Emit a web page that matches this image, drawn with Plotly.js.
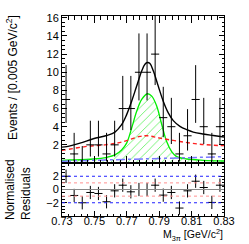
<!DOCTYPE html>
<html>
<head>
<meta charset="utf-8">
<script src="https://cdn.plot.ly/plotly-3.0.1.min.js"></script>
<style>html,body{margin:0;padding:0;background:#fff;}#plot{width:249px;height:244px;}</style>
</head>
<body>
<div id="plot"></div>
<script>
// ---- data ----
const binCenters = [0.7325,0.7375,0.7425,0.7475,0.7525,0.7575,0.7625,0.7675,0.7725,0.7775,
                    0.7825,0.7875,0.7925,0.7975,0.8025,0.8075,0.8125,0.8175,0.8225,0.8275];
const counts     = [7,1,0,2,2,1,2,6,6,10,10,12,5,4,1,3,7,4,1,4];
const residuals  = [2.0,-0.9,-2.0,-0.45,-0.6,-1.85,-0.2,0.65,-0.35,0.0,
                    0.0,0.65,-0.85,-0.45,-2.8,-0.2,1.25,0.3,-1.95,0.65];

// fitted curves
const totalX = [0.7300,0.7329,0.7411,0.7493,0.7576,0.7627,0.7668,0.7699,0.7730,0.7761,0.7792,0.7812,0.7827,0.7843,0.7864,0.7894,0.7925,0.7956,0.7987,0.8028,0.8070,0.8110,0.8172,0.8234,0.8300];
const totalY = [1.75,1.81,2.19,2.67,3.03,3.41,4.22,5.33,6.81,8.48,10.14,10.89,11.07,10.96,10.14,8.48,6.81,5.52,4.67,4.04,3.67,3.41,3.19,3.03,2.87];

const sigX = [0.7300,0.7349,0.7493,0.7576,0.7627,0.7668,0.7699,0.7730,0.7761,0.7792,0.7827,0.7854,0.7885,0.7916,0.7946,0.7977,0.8008,0.8070,0.8172,0.8300];
const sigY = [0.30,0.33,0.44,0.63,0.89,1.44,2.19,3.85,5.70,7.00,7.63,7.37,6.26,4.22,2.37,1.26,0.70,0.44,0.30,0.22];

const bkgX = [0.7300,0.7319,0.7442,0.7565,0.7668,0.7781,0.7827,0.7905,0.8028,0.8152,0.8271,0.8300];
const bkgY = [1.40,1.44,1.81,2.00,2.30,2.93,3.00,2.74,2.37,2.07,1.93,1.92];

const bkg2X = [0.7300,0.7550,0.7800,0.8050,0.8300];
const bkg2Y = [0.20,0.32,0.45,0.58,0.70];

const yTickVals  = [2,4,6,8,10,12,14,16];
const resTickVals = [-2,0,2];

// ---- Poisson (Gehrels) asymmetric errors derived from the counts ----
const errUp = counts.map(n => Math.sqrt(n + 0.75) + 1);
const errLo = counts.map(n => n === 0 ? 0 : n - n * Math.pow(1 - 1/(9*n) - 1/(3*Math.sqrt(n)), 3));
const halfBin = 0.0025;

const FONT = 'Liberation Sans, Arial, sans-serif';

const traces = [
  {x: sigX, y: sigY, xaxis:'x', yaxis:'y', mode:'lines', fill:'tozeroy',
   fillcolor:'rgba(0,0,0,0)',
   fillpattern:{shape:'/', fgcolor:'#44ee44', bgcolor:'rgba(255,255,255,0)', size:6, solidity:0.12},
   line:{color:'#00ee00', width:1.3, shape:'spline'}, hoverinfo:'skip'},
  {x: bkg2X, y: bkg2Y, xaxis:'x', yaxis:'y', mode:'lines',
   line:{color:'rgb(120,120,255)', width:1.5, dash:'dashdot'}},
  {x: bkgX, y: bkgY, xaxis:'x', yaxis:'y', mode:'lines',
   line:{color:'#ff2020', width:1.4, dash:'4px,3px', shape:'spline'}},
  {x: totalX, y: totalY, xaxis:'x', yaxis:'y', mode:'lines',
   line:{color:'#000000', width:1.4, shape:'spline'}},
  {x: binCenters, y: counts, xaxis:'x', yaxis:'y', mode:'markers',
   marker:{size:1, color:'#000'},
   error_x:{type:'constant', value:halfBin, width:0, color:'#000', thickness:1},
   error_y:{type:'data', symmetric:false, array:errUp, arrayminus:errLo, width:0, color:'#000', thickness:1}},
  {x: binCenters, y: residuals, xaxis:'x2', yaxis:'y2', mode:'markers',
   marker:{size:1, color:'#000'},
   error_x:{type:'constant', value:halfBin, width:0, color:'#000', thickness:1},
   error_y:{type:'constant', value:1, width:0, color:'#000', thickness:1}}
];

const axBase = {
  showline:true, linecolor:'#000', linewidth:1, mirror:'allticks',
  ticks:'inside', tickcolor:'#000', tickwidth:1,
  showgrid:false, zeroline:false,
  tickfont:{family:FONT, size:11, color:'#000'}
};

const layout = {
  width:249, height:244,
  margin:{l:62, r:25, t:16, b:28},
  paper_bgcolor:'#fff', plot_bgcolor:'#fff',
  showlegend:false,
  xaxis: Object.assign({}, axBase, {domain:[0,1], anchor:'y', range:[0.73,0.83],
    tickmode:'linear', tick0:0.73, dtick:0.02, ticklen:7, showticklabels:false,
    minor:{ticks:'inside', ticklen:3.5, tickmode:'linear', tick0:0.73, dtick:0.004, tickcolor:'#000'}}),
  yaxis: Object.assign({}, axBase, {domain:[0.265,1], anchor:'x', range:[0,16.2],
    tickmode:'array', tickvals:yTickVals,
    ticklen:5, minor:{ticks:'inside', ticklen:2.5, tickmode:'linear', tick0:0, dtick:0.5, tickcolor:'#000'}}),
  xaxis2: Object.assign({}, axBase, {domain:[0,1], anchor:'y2', range:[0.73,0.83],
    tickmode:'linear', tick0:0.73, dtick:0.02, ticklen:5, tickformat:'.2f', ticklabelstandoff:-5,
    minor:{ticks:'inside', ticklen:2.5, tickmode:'linear', tick0:0.73, dtick:0.004, tickcolor:'#000'}}),
  yaxis2: Object.assign({}, axBase, {domain:[0,0.265], anchor:'x2', range:[-4,4],
    tickmode:'array', tickvals:resTickVals, ticklen:5,
    minor:{ticks:'inside', ticklen:2.5, tickmode:'linear', tick0:0, dtick:0.5, tickcolor:'#000'}}),
  shapes: [
    {type:'line', xref:'x2 domain', yref:'y2', x0:0, x1:1, y0:2, y1:2, line:{color:'#2020ff', width:1, dash:'dot'}},
    {type:'line', xref:'x2 domain', yref:'y2', x0:0, x1:1, y0:-2, y1:-2, line:{color:'#2020ff', width:1, dash:'dot'}},
    {type:'line', xref:'x2 domain', yref:'y2', x0:0, x1:1, y0:1, y1:1, line:{color:'#ff9090', width:1, dash:'dot'}},
    {type:'line', xref:'x2 domain', yref:'y2', x0:0, x1:1, y0:-1, y1:-1, line:{color:'#ff9090', width:1, dash:'dot'}},
    {type:'line', xref:'x2 domain', yref:'y2', x0:0, x1:1, y0:0, y1:0, line:{color:'#888888', width:1}}
  ],
  annotations: [
    {text:'Events / [0.005 GeV/c<sup>2</sup>]', textangle:-90, xref:'paper', yref:'paper',
     x:(12-62)/162, y:(216-78)/200, xanchor:'center', yanchor:'middle', showarrow:false,
     font:{family:FONT, size:12, color:'#000'}},
    {text:'Normalised<br>Residuals', textangle:-90, align:'left', xref:'paper', yref:'paper',
     x:(17.5-62)/162, y:(216-222)/200, xanchor:'center', yanchor:'bottom', showarrow:false,
     font:{family:FONT, size:12, color:'#000'}},
    {text:'M<sub>3π</sub> [GeV/c<sup>2</sup>]', xref:'paper', yref:'paper',
     x:1, y:(216-244)/200, xanchor:'right', yanchor:'bottom', showarrow:false,
     borderpad:0, font:{family:FONT, size:10.5, color:'#000'}}
  ]
};

Plotly.newPlot('plot', traces, layout, {staticPlot:true, displayModeBar:false});
</script>
</body>
</html>
